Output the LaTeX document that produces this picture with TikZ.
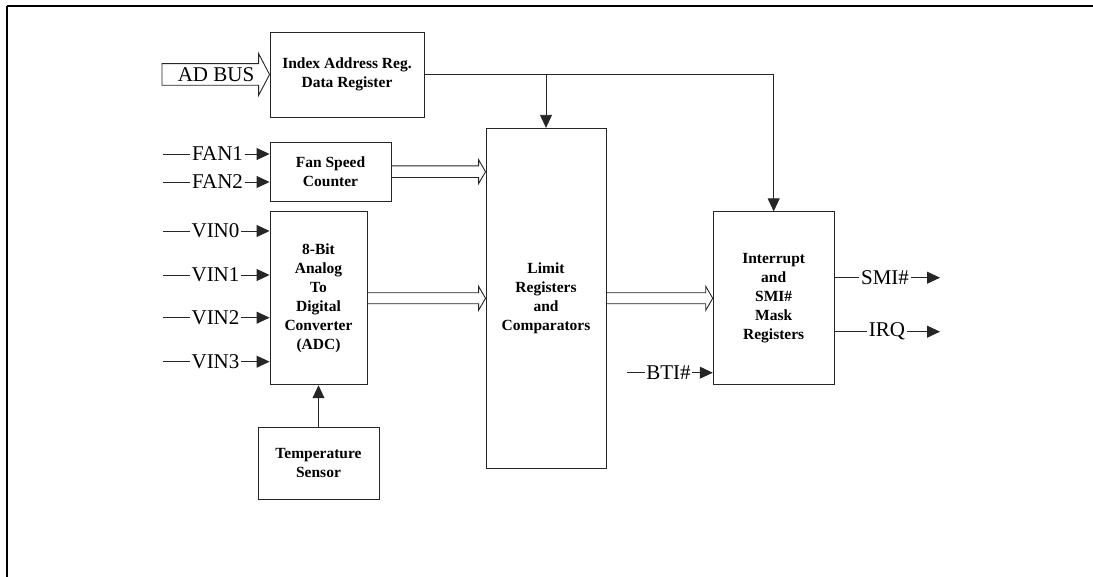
\documentclass[tikz,border=0pt]{standalone}
\usepackage{fontspec}
\setmainfont{Liberation Serif}
\usetikzlibrary{arrows.meta,calc}
\begin{document}
\begin{tikzpicture}[x=1pt,y=-1pt,
  box/.style={draw=black!85,line width=0.9pt,align=center,inner sep=0pt,
    font=\bfseries\fontsize{15.5}{19}\selectfont},
  sig/.style={inner xsep=1.5pt,inner ysep=0pt,font=\fontsize{21}{24}\selectfont},
  wire/.style={draw=black!85,line width=0.9pt},
  arr/.style={wire,-{Triangle[length=13pt,width=12pt]}},
  hollow/.style={draw=black!85,line width=0.9pt,fill=white,line join=miter}]
\useasboundingbox (0,0) rectangle (1093,577);
% frame
\draw[line width=2pt] (7,6) -- (1093,6);
\draw[line width=1.5pt] (7,6) -- (7,577);
% blocks
\node[box,minimum width=154pt,minimum height=85pt] (idx) at (347,74.5) {Index Address Reg.\\Data Register};
\node[box,minimum width=121pt,minimum height=59pt] (fan) at (330.5,171.7) {Fan Speed\\Counter};
\node[box,minimum width=97pt,minimum height=173pt] (adc) at (318.5,298.3) {8-Bit\\Analog\\To\\Digital\\Converter\\(ADC)};
\node[box,minimum width=121pt,minimum height=72pt] (temp) at (318.5,463) {Temperature\\Sensor};
\node[box,minimum width=120pt,minimum height=340pt] (limit) at (546,298.3) {Limit\\Registers\\and\\Comparators};
\node[box,minimum width=121pt,minimum height=173pt] (intr) at (773.7,298.3) {Interrupt\\and\\SMI\#\\Mask\\Registers};
% AD BUS hollow arrow
\coordinate (ads) at (162,74.5);
\draw[hollow] let \p1=(ads), \p2=(idx.west) in
  (\x1,\y1+10.8pt) -- (\x2-11pt,\y1+10.8pt) -- (\x2-11pt,\y1+21pt) -- (\x2,\y1)
  -- (\x2-11pt,\y1-21pt) -- (\x2-11pt,\y1-10.8pt) -- (\x1,\y1-10.8pt) -- cycle;
\node[sig] (adbus) at (216,75) {AD BUS};
% hollow bus arrows
\draw[hollow] let \p1=(fan.east), \p2=(limit.west) in
  (\x1,\y1+5.8pt) -- (\x2-7pt,\y1+5.8pt) -- (\x2-7pt,\y1+12pt) -- (\x2,\y1)
  -- (\x2-7pt,\y1-12pt) -- (\x2-7pt,\y1-5.8pt) -- (\x1,\y1-5.8pt) -- cycle;
\draw[hollow] let \p1=(adc.east), \p2=(limit.west) in
  (\x1,\y1+5.5pt) -- (\x2-7pt,\y1+5.5pt) -- (\x2-7pt,\y1+12pt) -- (\x2,\y1)
  -- (\x2-7pt,\y1-12pt) -- (\x2-7pt,\y1-5.5pt) -- (\x1,\y1-5.5pt) -- cycle;
\draw[hollow] let \p1=(limit.east), \p2=(intr.west) in
  (\x1,\y1+5.5pt) -- (\x2-7pt,\y1+5.5pt) -- (\x2-7pt,\y1+12pt) -- (\x2,\y1)
  -- (\x2-7pt,\y1-12pt) -- (\x2-7pt,\y1-5.5pt) -- (\x1,\y1-5.5pt) -- cycle;
% index register bus lines
\coordinate (j1) at (limit.north |- idx.east);
\coordinate (j2) at (intr.north |- idx.east);
\draw[wire] (idx.east) -- (j2);
\draw[arr] (j2) -- (intr.north);
\draw[arr] (j1) -- (limit.north);
% temperature to ADC
\draw[arr] (temp.north) -- (adc.south);
% FAN inputs
\foreach \n/\t/\y in {f1/FAN1/154,f2/FAN2/182}{
  \coordinate (\n s) at (163,\y);
  \node[sig] (\n) at (217.5,\y) {\t};
  \draw[wire] (\n s) -- (\n.west);
  \draw[arr] (\n.east) -- (\n.east -| fan.west);
}
% VIN inputs
\foreach \n/\t/\y in {v0/VIN0/231,v1/VIN1/275,v2/VIN2/317.7,v3/VIN3/361.7}{
  \coordinate (\n s) at (163,\y);
  \node[sig] (\n) at (215.5,\y) {\t};
  \draw[wire] (\n s) -- (\n.west);
  \draw[arr] (\n.east) -- (\n.east -| adc.west);
}
% BTI#
\coordinate (bs) at (627,372.7);
\node[sig] (bti) at (668.5,372.7) {BTI\#};
\draw[wire] (bs) -- (bti.west);
\draw[arr] (bti.east) -- (bti.east -| intr.west);
% outputs
\node[sig] (smi) at (885,277.7) {SMI\#};
\coordinate (smie) at (940,277.7);
\draw[wire] (smi.west -| intr.east) -- (smi.west);
\draw[arr] (smi.east) -- (smie);
\node[sig] (irq) at (887,331.7) {IRQ};
\coordinate (irqe) at (940,331.7);
\draw[wire] (irq.west -| intr.east) -- (irq.west);
\draw[arr] (irq.east) -- (irqe);
\end{tikzpicture}
\end{document}
